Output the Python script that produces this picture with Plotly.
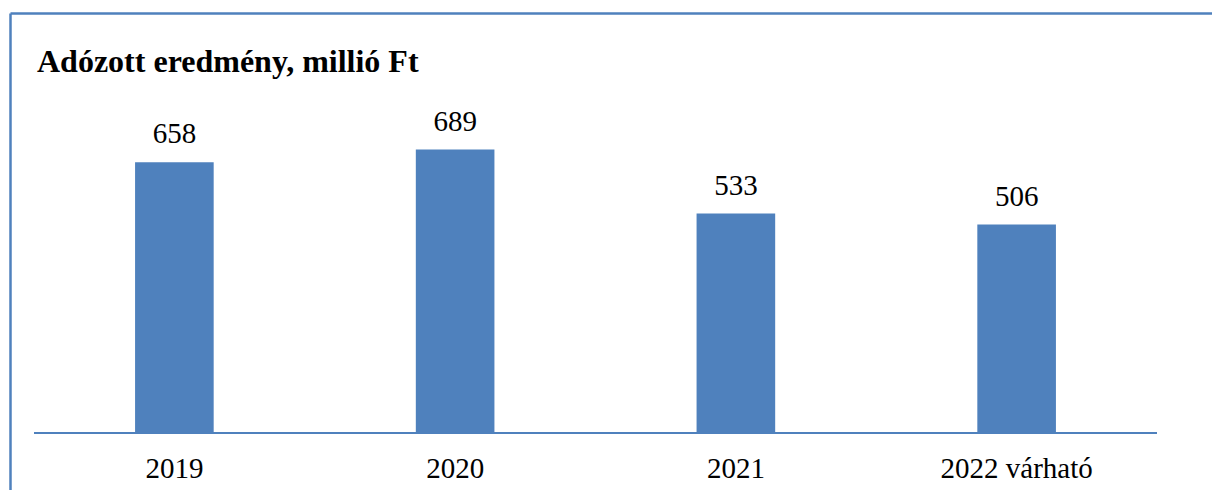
import plotly.graph_objects as go

categories = ["2019", "2020", "2021", "2022 várható"]
values = [658, 689, 533, 506]
title_text = "Adózott eredmény, millió Ft"

BLUE = "#4F81BD"
FONT = "Liberation Serif, Times New Roman, serif"

W, H = 1212, 490
ml, mr, mt, mb = 34, 55, 104, 58
pw = W - ml - mr
ph = H - mt - mb

fig = go.Figure()
fig.add_trace(go.Bar(x=categories, y=values, marker=dict(color=BLUE, line=dict(width=0)),
                     hoverinfo="x+y"))
# value labels above bars (invisible markers push the text upward)
fig.add_trace(go.Scatter(x=categories, y=values, mode="markers+text",
                         text=[str(v) for v in values], textposition="top center",
                         marker=dict(size=17, opacity=0), hoverinfo="skip",
                         textfont=dict(family=FONT, size=29, color="#000000"),
                         cliponaxis=False))

def px_x(p):
    return (p - ml) / pw

def px_y(p):
    return (H - mb - p) / ph

# outer frame lines (top and left)
fig.add_shape(type="line", xref="paper", yref="paper",
              x0=px_x(10.5), x1=px_x(1213), y0=px_y(13.5), y1=px_y(13.5),
              line=dict(color=BLUE, width=2.5))
fig.add_shape(type="line", xref="paper", yref="paper",
              x0=px_x(10.5), x1=px_x(10.5), y0=px_y(13.5), y1=px_y(491),
              line=dict(color=BLUE, width=2.5))

fig.update_layout(
    width=W, height=H,
    margin=dict(l=ml, r=mr, t=mt, b=mb, autoexpand=False),
    paper_bgcolor="white", plot_bgcolor="white",
    showlegend=False,
    bargap=0.72,
    title=dict(text="<b>" + title_text + "</b>", x=37 / W, xanchor="left", xref="container",
               y=1 - 61 / H, yanchor="middle", yref="container",
               font=dict(family=FONT, size=32, color="#000000")),
    xaxis=dict(type="category", range=[-0.5, len(categories) - 0.5], showline=True,
               linecolor=BLUE, linewidth=2, ticks="", showgrid=False, ticklabelstandoff=9,
               automargin=False,
               tickfont=dict(family=FONT, size=29, color="#000000"), zeroline=False),
    yaxis=dict(range=[0, 800], visible=False, showgrid=False, zeroline=False),
    font=dict(family=FONT),
)

fig.write_html("out.html", config={"displayModeBar": False},
               post_script="document.body.style.margin='0';document.body.style.overflow='hidden';")
